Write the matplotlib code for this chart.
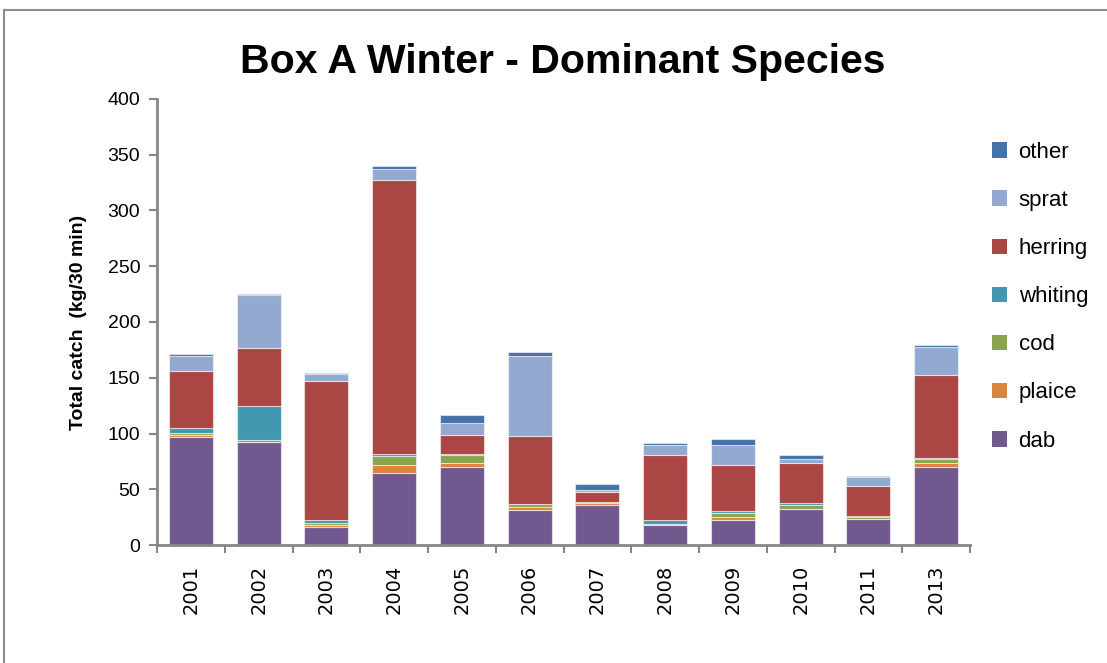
import matplotlib
matplotlib.use("Agg")
import matplotlib.pyplot as plt
import numpy as np
from matplotlib.lines import Line2D
from matplotlib.patches import Patch

years = ["2001", "2002", "2003", "2004", "2005", "2006", "2007", "2008", "2009", "2010", "2011", "2013"]
dab = [97, 92, 16, 65, 70, 31, 36, 18, 22, 32, 23, 70]
plaice = [1.5, 0.5, 2, 7, 3.5, 3.5, 1.8, 0.5, 3.5, 0.5, 0.5, 3.3]
cod = [1.5, 2, 2, 8, 7.5, 2, 0.5, 0.5, 3.5, 3, 2, 4]
whiting = [5, 30, 2, 2, 0.5, 0.5, 0.2, 3, 1.8, 2, 0.3, 0.5]
herring = [51, 52, 125, 245, 17, 60.5, 9, 59, 41, 36, 27, 75]
sprat = [13.5, 47.5, 6, 10, 11, 72, 2, 9, 18, 4, 8, 25]
other = [1.5, 1, 1.5, 3, 7, 3.3, 5, 1.5, 5, 3, 1.5, 1.5]

series = [("dab", dab, "#71588F"), ("plaice", plaice, "#DB843D"), ("cod", cod, "#89A54E"),
          ("whiting", whiting, "#4198AF"), ("herring", herring, "#AA4643"),
          ("sprat", sprat, "#93A9CF"), ("other", other, "#4572A7")]

plt.rcParams['font.family'] = ['Liberation Sans', 'DejaVu Sans']

fig = plt.figure(figsize=(11.07, 6.63), dpi=100)
ax = fig.add_axes([157/1107, 1-545/663, (970-157)/1107, (545-99)/663])

x = np.arange(len(years))
bottom = np.zeros(len(years))
handles = []
for name, vals, col in series:
    v = np.array(vals, dtype=float)
    ax.bar(x, v, bottom=bottom, width=0.65, color=col, edgecolor=(1, 1, 1, 0.55), linewidth=0.8)
    bottom += v
    handles.append(Patch(facecolor=col, label=name))

ax.set_xlim(-0.5, len(years) - 0.5)
ax.set_ylim(0, 400)
ax.set_yticks(np.arange(0, 401, 50))
ax.tick_params(axis='y', labelsize=14, length=6, width=1.5, color='#868686', direction='out', pad=6)
ax.set_xticks(x)
ax.set_xticklabels(years, rotation=90, fontsize=14, family='DejaVu Sans')
ax.tick_params(axis='x', which='major', length=0, pad=14)
ax.set_xticks(np.arange(-0.5, len(years)), minor=True)
ax.tick_params(axis='x', which='minor', length=6, width=1.5, color='#868686', direction='out')

for s in ['top', 'right']:
    ax.spines[s].set_visible(False)
for s in ['left', 'bottom']:
    ax.spines[s].set_color('#868686')
    ax.spines[s].set_linewidth(2)

ax.set_ylabel("Total catch  (kg/30 min)", fontsize=14, fontweight='bold', labelpad=15)
fig.text(563/1107, 1-62/663, "Box A Winter - Dominant Species", fontsize=29.5, fontweight='bold',
         ha='center', va='center')

leg = fig.legend(handles=handles[::-1], loc='upper left', bbox_to_anchor=(983/1107, 1-133/663),
                 frameon=False, fontsize=16, handlelength=0.7, handleheight=0.7,
                 labelspacing=1.22, handletextpad=0.5, borderaxespad=0)

fig.add_artist(Line2D([4/1107, 4/1107], [0, 1-10/663], color='#8c8c8c', linewidth=1.5, transform=fig.transFigure))
fig.add_artist(Line2D([4/1107, 1], [1-10/663, 1-10/663], color='#8c8c8c', linewidth=1.5, transform=fig.transFigure))

fig.savefig("out.png", dpi=100)
